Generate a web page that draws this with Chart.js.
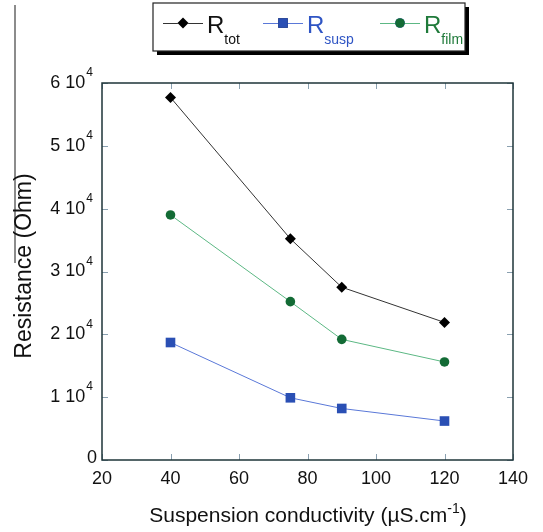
<!DOCTYPE html>
<html>
<head>
<meta charset="utf-8">
<script src="https://cdn.jsdelivr.net/npm/chart.js@4/dist/chart.umd.min.js"></script>
<style>
  html, body { margin: 0; padding: 0; background: #fff; }
  #wrap { width: 543px; height: 532px; position: relative; }
</style>
</head>
<body>
<div id="wrap"><canvas id="chart"></canvas></div>
<script>
// data
const conductivity = [40, 75, 90, 120];
const rTot = [57700, 35200, 27500, 21900];
const rSusp = [18700, 9900, 8200, 6200];
const rFilm = [39000, 25200, 19200, 15600];

const xTicks = [20, 40, 60, 80, 100, 120, 140];
const yTicks = [0, 10000, 20000, 30000, 40000, 50000, 60000];
const yTickMantissa = ['0', '1', '2', '3', '4', '5', '6'];

const seriesNames = ['tot', 'susp', 'film'];
const xTitle = 'Suspension conductivity (\u00b5S.cm';
const yTitle = 'Resistance (Ohm)';

const FONT = '"Liberation Sans", Arial, sans-serif';

function pts(ys) {
  return conductivity.map((x, i) => ({ x: x, y: ys[i] }));
}

// draws the frame, inward ticks, tick labels, titles and legend
const decorPlugin = {
  id: 'decor',
  afterDraw(chart) {
    const ctx = chart.ctx;
    const a = chart.chartArea;
    const xs = chart.scales.x;
    const ys = chart.scales.y;
    ctx.save();

    // stray line at left edge of the scan
    ctx.strokeStyle = '#666';
    ctx.lineWidth = 1.5;
    ctx.beginPath();
    ctx.moveTo(15, 5);
    ctx.lineTo(15, 263);
    ctx.stroke();

    // ticks
    ctx.strokeStyle = '#8aa0b0';
    ctx.lineWidth = 1;
    xTicks.forEach(v => {
      const px = Math.round(xs.getPixelForValue(v)) + 0.5;
      ctx.beginPath();
      ctx.moveTo(px, a.bottom); ctx.lineTo(px, a.bottom - 6);
      ctx.moveTo(px, a.top); ctx.lineTo(px, a.top + 6);
      ctx.stroke();
    });
    yTicks.forEach(v => {
      const py = Math.round(ys.getPixelForValue(v)) + 0.5;
      ctx.beginPath();
      ctx.moveTo(a.left, py); ctx.lineTo(a.left + 6, py);
      ctx.moveTo(a.right, py); ctx.lineTo(a.right - 6, py);
      ctx.stroke();
    });

    // frame
    ctx.strokeStyle = '#1e3438';
    ctx.lineWidth = 1.5;
    ctx.strokeRect(a.left, a.top, a.right - a.left, a.bottom - a.top);

    // x tick labels
    ctx.fillStyle = '#111';
    ctx.font = '18px ' + FONT;
    ctx.textAlign = 'center';
    ctx.textBaseline = 'middle';
    xTicks.forEach(v => {
      ctx.fillText(String(v), xs.getPixelForValue(v), a.bottom + 19);
    });

    // y tick labels like "6 10^4"
    yTicks.forEach((v, i) => {
      const py = ys.getPixelForValue(v);
      ctx.textBaseline = 'middle';
      if (v === 0) {
        ctx.font = '18px ' + FONT;
        ctx.textAlign = 'right';
        ctx.fillText('0', a.left - 5, py - 2);
        return;
      }
      ctx.font = '12px ' + FONT;
      ctx.textAlign = 'right';
      const supW = ctx.measureText('4').width;
      ctx.fillText('4', a.left - 9, py - 10);
      ctx.font = '18px ' + FONT;
      ctx.fillText(yTickMantissa[i] + ' 10', a.left - 10 - supW, py);
    });

    // x title with superscript -1
    ctx.font = '21px ' + FONT;
    ctx.textAlign = 'left';
    ctx.textBaseline = 'alphabetic';
    const w1 = ctx.measureText(xTitle).width;
    ctx.font = '14px ' + FONT;
    const w2 = ctx.measureText('-1').width;
    ctx.font = '21px ' + FONT;
    const w3 = ctx.measureText(')').width;
    let tx = 308 - (w1 + w2 + w3) / 2;
    const ty = 522;
    ctx.fillText(xTitle, tx, ty);
    ctx.font = '14px ' + FONT;
    ctx.fillText('-1', tx + w1, ty - 9);
    ctx.font = '21px ' + FONT;
    ctx.fillText(')', tx + w1 + w2, ty);

    // y title
    ctx.save();
    ctx.translate(25, 266);
    ctx.rotate(-Math.PI / 2);
    ctx.font = '23px ' + FONT;
    ctx.textAlign = 'center';
    ctx.textBaseline = 'middle';
    ctx.fillText(yTitle, 0, 0);
    ctx.restore();

    // legend box with shadow
    const bx = 153, by = 3, bw = 312, bh = 48;
    ctx.fillStyle = '#000';
    ctx.fillRect(bx + 4, by + 4, bw, bh);
    ctx.fillStyle = '#fff';
    ctx.fillRect(bx, by, bw, bh);
    ctx.strokeStyle = '#222';
    ctx.lineWidth = 1.2;
    ctx.strokeRect(bx, by, bw, bh);

    const starts = [163, 263, 380];
    chart.data.datasets.forEach((ds, i) => {
      const lx = starts[i];
      const ly = 23;
      ctx.strokeStyle = ds.borderColor;
      ctx.lineWidth = 1;
      ctx.beginPath();
      ctx.moveTo(lx, ly + 0.5);
      ctx.lineTo(lx + 40, ly + 0.5);
      ctx.stroke();
      Chart.helpers.drawPoint(ctx, {
        pointStyle: ds.pointStyle,
        radius: ds.pointRadius,
        borderWidth: 0,
        rotation: 0
      }, lx + 20, ly);
      ctx.fillStyle = ds.pointBackgroundColor;
      ctx.fill();
      ctx.fillStyle = ds.legendTextColor;
      ctx.textAlign = 'left';
      ctx.textBaseline = 'alphabetic';
      ctx.font = '24px ' + FONT;
      ctx.fillText('R', lx + 44, 33);
      const rw = ctx.measureText('R').width;
      ctx.font = '14px ' + FONT;
      ctx.fillText(seriesNames[i], lx + 44 + rw, 44);
    });

    ctx.restore();
  }
};

const ctx = document.getElementById('chart').getContext('2d');
new Chart(ctx, {
  type: 'line',
  data: {
    datasets: [
      {
        label: 'Rtot',
        data: pts(rTot),
        borderColor: '#333',
        borderWidth: 1,
        pointStyle: 'rectRot',
        pointRadius: 5.5,
        pointBackgroundColor: '#000',
        pointBorderWidth: 0,
        legendTextColor: '#111'
      },
      {
        label: 'Rsusp',
        data: pts(rSusp),
        borderColor: '#5a78d8',
        borderWidth: 1,
        pointStyle: 'rect',
        pointRadius: 6.8,
        pointBackgroundColor: '#2a4fb4',
        pointBorderWidth: 0,
        legendTextColor: '#2f55c4'
      },
      {
        label: 'Rfilm',
        data: pts(rFilm),
        borderColor: '#5cb884',
        borderWidth: 1,
        pointStyle: 'circle',
        pointRadius: 4.8,
        pointBackgroundColor: '#136b35',
        pointBorderWidth: 0,
        legendTextColor: '#1f7a3a'
      }
    ]
  },
  options: {
    responsive: true,
    maintainAspectRatio: false,
    animation: false,
    layout: {
      padding: { left: 102, right: 30, top: 83, bottom: 72 }
    },
    scales: {
      x: { type: 'linear', min: 20, max: 140, display: false },
      y: { type: 'linear', min: 0, max: 60000, display: false }
    },
    plugins: {
      legend: { display: false },
      tooltip: { enabled: false }
    }
  },
  plugins: [decorPlugin]
});
</script>
</body>
</html>
